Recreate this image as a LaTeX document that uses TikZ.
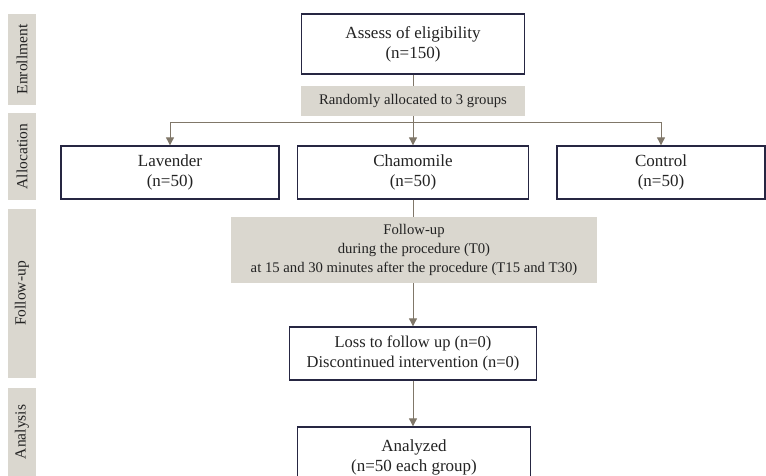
\documentclass[tikz,border=0pt]{standalone}
\usepackage{fontspec}
\setmainfont{Liberation Serif}
\usetikzlibrary{positioning, arrows.meta}

\definecolor{boxgray}{RGB}{218,215,207}
\definecolor{linegray}{RGB}{128,119,105}
\definecolor{edgeblue}{RGB}{38,38,66}
\definecolor{txt}{RGB}{35,35,35}

\begin{document}
\begin{tikzpicture}[x=1pt, y=-1pt, text=txt,
    box/.style={draw=edgeblue, line width=1.3pt, fill=white, align=center, inner sep=2pt,
                font=\fontsize{17}{20}\selectfont},
    grey/.style={fill=boxgray, align=center, inner sep=2pt,
                 font=\fontsize{14.7}{19}\selectfont},
    phase/.style={fill=boxgray, rotate=90, minimum height=28, inner sep=0pt,
                  font=\fontsize{15.5}{17}\selectfont},
    link/.style={draw=linegray, line width=0.9pt},
    arr/.style={link, -{Triangle[width=8pt,length=8pt]}}]
    \useasboundingbox (0,0) rectangle (766,476);

    % phases on the left
    \node[phase, minimum width=91] (enr) at (22,59.5) {Enrollment};
    \node[phase, minimum width=87] (alc) at (22,156.5) {Allocation};
    \node[phase, minimum width=169] (fup) at (22,293.5) {Follow-up};
    \node[phase, minimum width=88] (ana) at (22,432) {Analysis};

    \node[box, minimum width=223, minimum height=60] (assess) at (413,44) {Assess of eligibility\\(n=150)};
    \node[grey, minimum width=224, minimum height=30] (rand) at (413,101) {Randomly allocated to 3 groups};
    \coordinate (split) at (413,122);

    \node[box, minimum width=218, minimum height=53] (lav) at (170,172.5) {Lavender\\(n=50)};
    \node[box, minimum width=231, minimum height=53] (cham) at (413,172.5) {Chamomile\\(n=50)};
    \node[box, minimum width=208, minimum height=53] (ctrl) at (661,172.5) {Control\\(n=50)};

    \node[grey, minimum width=366, minimum height=66] (follow) at (414,250)
        {Follow-up\\during the procedure (T0)\\at 15 and 30 minutes after the procedure (T15 and T30)};
    \node[box, minimum width=247, minimum height=53, font=\fontsize{16.5}{20}\selectfont] (loss) at (413,353.5)
        {Loss to follow up (n=0)\\Discontinued intervention (n=0)};
    \node[box, minimum width=233, minimum height=60] (anz) at (414,457)
        {Analyzed\\(n=50 each group)};

    \draw[link] (assess) -- (rand);
    \draw[link] (rand) -- (split);
    \draw[arr] (split) -| (lav);
    \draw[arr] (split) -- (cham);
    \draw[arr] (split) -| (ctrl);
    \draw[link] (cham) -- (cham |- follow.north);
    \draw[arr] (follow.south -| loss) -- (loss);
    \draw[arr] (loss) -- (loss |- anz.north);
\end{tikzpicture}
\end{document}
